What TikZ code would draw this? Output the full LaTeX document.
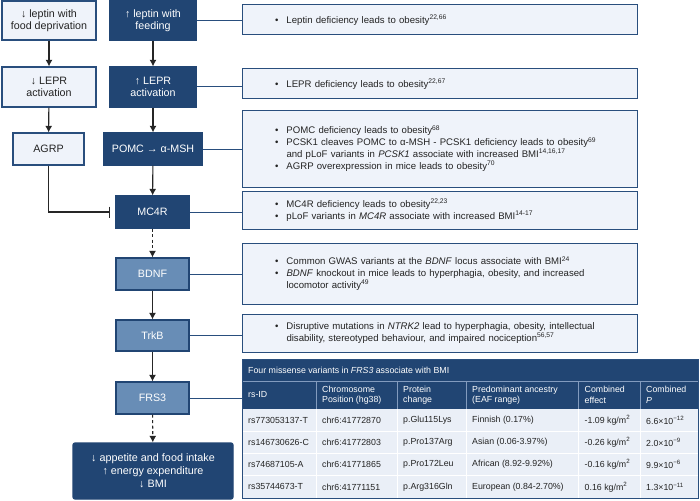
\documentclass[tikz,border=0pt]{standalone}
\usepackage{fontspec}
\setmainfont{Liberation Sans}
\usetikzlibrary{arrows.meta}
\definecolor{navy}{RGB}{33,69,115}
\definecolor{midblue}{RGB}{104,141,182}
\definecolor{lightfill}{RGB}{239,243,250}
\definecolor{lineblue}{RGB}{41,78,125}
\definecolor{rowfill}{RGB}{234,239,247}
\definecolor{txt}{RGB}{35,35,35}
\definecolor{hdrsep}{RGB}{130,155,190}
\newcommand{\bl}[1]{\mbox{\makebox[11.5pt][l]{\textbullet}#1}}
\newcommand{\il}[1]{\mbox{\hspace*{11.5pt}#1}}
\begin{document}
\begin{tikzpicture}[x=1pt,y=-1pt,
  basebox/.style={line width=1.2pt, align=center, inner sep=0pt, font=\fontsize{10.7}{12.5}\selectfont},
  lbox/.style={basebox, draw=lineblue, fill=lightfill, text=txt},
  dbox/.style={basebox, draw=navy, fill=navy, text=white},
  mbox/.style={basebox, draw=navy, fill=midblue, text=white},
  rbox/.style={draw=lineblue, fill=lightfill, line width=1pt, text=txt, align=left,
     text width=329pt, inner xsep=33pt, inner ysep=0pt, minimum width=395pt,
     font=\fontsize{9.6}{11.8}\selectfont},
  arr/.style={-{Latex[length=6.5pt,width=7pt]}, line width=1.1pt, draw=black!85},
  darr/.style={arr, dash pattern=on 3pt off 2.5pt},
  inh/.style={-{Bar[width=11pt,line width=1.1pt]}, line width=1.1pt, draw=black!85, shorten >=5pt},
  conn/.style={draw=lineblue, line width=1pt},
  th/.style={anchor=west, align=left, text=white, inner sep=0pt, font=\fontsize{8.8}{10.5}\selectfont},
  td/.style={anchor=west, align=left, text=txt, inner sep=0pt, font=\fontsize{8.8}{10.5}\selectfont}
]
\useasboundingbox[fill=white] (0,0) rectangle (700,500);

% left column
\node[lbox, minimum width=94pt, minimum height=39pt] (ldep) at (49,20.5) {↓ leptin with\\food deprivation};
\node[dbox, minimum width=86pt, minimum height=39pt] (lfeed) at (153,20.5) {↑ leptin with\\feeding};
\node[lbox, minimum width=94pt, minimum height=40pt] (lrd) at (49,87) {↓ LEPR\\activation};
\node[dbox, minimum width=86pt, minimum height=40pt] (lru) at (153,87) {↑ LEPR\\activation};
\node[lbox, minimum width=71pt, minimum height=32pt] (agrp) at (48.5,149) {AGRP};
\node[dbox, minimum width=98pt, minimum height=32pt] (pomc) at (153,149) {POMC → α-MSH};
\node[dbox, minimum width=73pt, minimum height=32pt] (mc4r) at (152.5,212) {MC4R};
\node[mbox, minimum width=73pt, minimum height=32pt] (bdnf) at (152.5,274) {BDNF};
\node[mbox, minimum width=73pt, minimum height=31pt] (trkb) at (152.5,335.5) {TrkB};
\node[mbox, minimum width=73pt, minimum height=32pt] (frs) at (152.5,398) {FRS3};
\node[dbox, rounded corners=2pt, minimum width=160pt, minimum height=56pt, font=\fontsize{10.8}{12.8}\selectfont] (out) at (153,471) {↓ appetite and food intake\\↑ energy expenditure\\↓ BMI};

\draw[arr] (ldep) -- (lrd);
\draw[arr] (lfeed) -- (lru);
\draw[arr] (lrd) -- (agrp);
\draw[arr] (lru) -- (pomc);
\draw[arr] (pomc) -- (mc4r);
\draw[inh] (agrp.south) |- (mc4r.west);
\draw[darr] (mc4r) -- (bdnf);
\draw[arr] (bdnf) -- (trkb);
\draw[arr] (trkb) -- (frs);
\draw[darr] (frs) -- (out);

% right boxes
\node[rbox, minimum height=30pt] (r1) at (439.5,20) {\bl{Leptin deficiency leads to obesity\textsuperscript{22,66}}};
\node[rbox, minimum height=30pt] (r2) at (439.5,84) {\bl{LEPR deficiency leads to obesity\textsuperscript{22,67}}};
\node[rbox, minimum height=77pt] (r3) at (439.5,148.5) {\bl{POMC deficiency leads to obesity\textsuperscript{68}}\\
\bl{PCSK1 cleaves POMC to α-MSH - PCSK1 deficiency leads to obesity\textsuperscript{69}}\\
\il{and pLoF variants in \textit{PCSK1} associate with increased BMI\textsuperscript{14,16,17}}\\
\bl{AGRP overexpression in mice leads to obesity\textsuperscript{70}}};
\node[rbox, minimum height=38pt] (r4) at (439.5,210) {\bl{MC4R deficiency leads to obesity\textsuperscript{22,23}}\\
\bl{pLoF variants in \textit{MC4R} associate with increased BMI\textsuperscript{14-17}}};
\node[rbox, minimum height=61pt] (r5) at (439.5,273.5) {\bl{Common GWAS variants at the \textit{BDNF} locus associate with BMI\textsuperscript{24}}\\
\bl{\textit{BDNF} knockout in mice leads to hyperphagia, obesity, and increased}\\
\il{locomotor activity\textsuperscript{49}}};
\node[rbox, minimum height=38pt] (r6) at (439.5,333) {\bl{Disruptive mutations in \textit{NTRK2} lead to hyperphagia, obesity, intellectual}\\
\il{disability, stereotyped behaviour, and impaired nociception\textsuperscript{56,57}}};

\draw[conn] (lfeed.east) -- (lfeed.east -| r1.west);
\draw[conn] (lru.east) -- (lru.east -| r2.west);
\draw[conn] (pomc.east) -- (pomc.east -| r3.west);
\draw[conn] (mc4r.east) -- (mc4r.east -| r4.west);
\draw[conn] (bdnf.east) -- (bdnf.east -| r5.west);
\draw[conn] (trkb.east) -- (trkb.east -| r6.west);

% table
\fill[navy] (242,359) rectangle (698,409);
\fill[rowfill] (242,409) rectangle (698,498);
\foreach \x in {316,397,466,578.5,640} {
  \draw[hdrsep, line width=0.8pt] (\x,381) -- (\x,409);
  \draw[white, line width=1pt] (\x,409) -- (\x,498);
}
\draw[hdrsep, line width=0.8pt] (242,381) -- (698,381);
\foreach \y in {431.25,453.5,475.75} {
  \draw[white, line width=1.2pt] (242,\y) -- (698,\y);
}
\node[draw=lineblue, line width=1pt, minimum width=456pt, minimum height=139pt, inner sep=0pt] (tbl) at (470,428.5) {};
\draw[conn] (frs.east) -- (frs.east -| tbl.west);

\node[th] (title) at (248,370) {Four missense variants in \textit{FRS3} associate with BMI};
\node[th] (h1) at (248,395) {rs-ID};
\node[th] (h2) at (322,395) {Chromosome\\Position (hg38)};
\node[th] (h3) at (403,395) {Protein\\change};
\node[th] (h4) at (472,395) {Predominant ancestry\\(EAF range)};
\node[th] (h5) at (584.5,395) {Combined\\effect};
\node[th] (h6) at (646,395) {Combined\\\textit{P}};

\node[td] (a1) at (248,420.1) {rs773053137-T};
\node[td] (a2) at (322,420.1) {chr6:41772870};
\node[td] (a3) at (403,420.1) {p.Glu115Lys};
\node[td] (a4) at (472,420.1) {Finnish (0.17\%)};
\node[td] (a5) at (584.5,420.1) {-1.09 kg/m\textsuperscript{2}};
\node[td] (a6) at (646,420.1) {6.6×10\textsuperscript{−12}};

\node[td] (b1) at (248,442.4) {rs146730626-C};
\node[td] (b2) at (322,442.4) {chr6:41772803};
\node[td] (b3) at (403,442.4) {p.Pro137Arg};
\node[td] (b4) at (472,442.4) {Asian (0.06-3.97\%)};
\node[td] (b5) at (584.5,442.4) {-0.26 kg/m\textsuperscript{2}};
\node[td] (b6) at (646,442.4) {2.0×10\textsuperscript{−9}};

\node[td] (c1) at (248,464.6) {rs74687105-A};
\node[td] (c2) at (322,464.6) {chr6:41771865};
\node[td] (c3) at (403,464.6) {p.Pro172Leu};
\node[td] (c4) at (472,464.6) {African (8.92-9.92\%)};
\node[td] (c5) at (584.5,464.6) {-0.16 kg/m\textsuperscript{2}};
\node[td] (c6) at (646,464.6) {9.9×10\textsuperscript{−6}};

\node[td] (d1) at (248,486.9) {rs35744673-T};
\node[td] (d2) at (322,486.9) {chr6:41771151};
\node[td] (d3) at (403,486.9) {p.Arg316Gln};
\node[td] (d4) at (472,486.9) {European (0.84-2.70\%)};
\node[td] (d5) at (584.5,486.9) {0.16 kg/m\textsuperscript{2}};
\node[td] (d6) at (646,486.9) {1.3×10\textsuperscript{−11}};
\end{tikzpicture}
\end{document}
